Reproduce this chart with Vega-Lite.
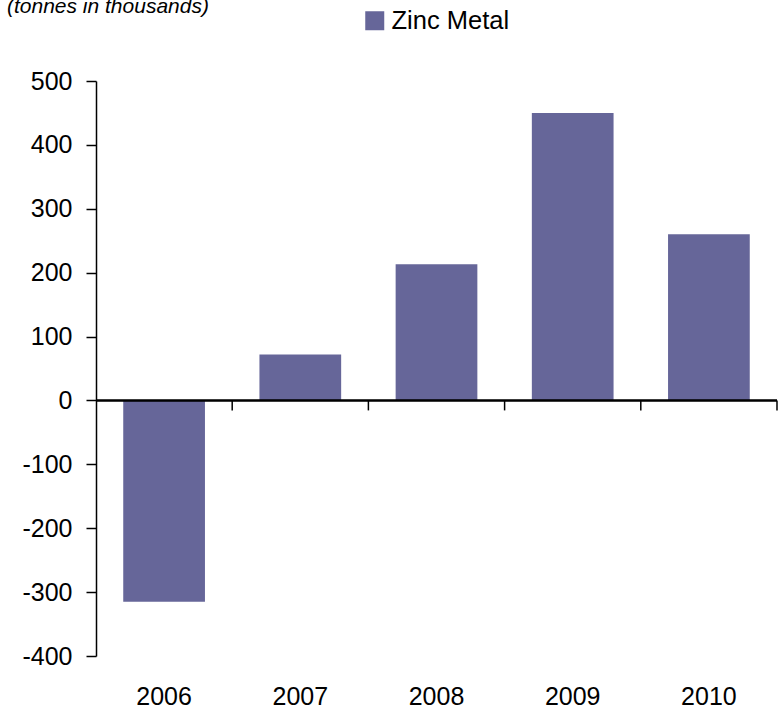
{
  "$schema": "https://vega.github.io/schema/vega-lite/v6.json",
  "width": 681,
  "height": 575,
  "autosize": "none",
  "padding": {"left": 96, "top": 81, "right": 5, "bottom": 55},
  "background": "white",
  "config": {
    "view": {"stroke": null},
    "font": "Liberation Sans"
  },
  "title": {
    "text": "(tonnes in thousands)",
    "anchor": "start",
    "fontStyle": "italic",
    "fontWeight": "normal",
    "fontSize": 21,
    "font": "Liberation Sans",
    "color": "black",
    "dx": -15,
    "dy": 26,
    "offset": 0,
    "baseline": "alphabetic"
  },
  "data": {
    "values": [
      {"year": "2006", "value": -315, "series": "Zinc Metal"},
      {"year": "2007", "value": 72, "series": "Zinc Metal"},
      {"year": "2008", "value": 213, "series": "Zinc Metal"},
      {"year": "2009", "value": 450, "series": "Zinc Metal"},
      {"year": "2010", "value": 260, "series": "Zinc Metal"}
    ]
  },
  "layer": [
    {
      "mark": {"type": "bar"},
      "encoding": {
        "x": {
          "field": "year",
          "type": "ordinal",
          "scale": {"paddingInner": 0.4, "paddingOuter": 0.2},
          "axis": {
            "title": null,
            "domain": false,
            "ticks": false,
            "labelAngle": 0,
            "labelFontSize": 25,
            "labelColor": "black",
            "labelPadding": 28,
            "labelFont": "Liberation Sans"
          }
        },
        "y": {
          "field": "value",
          "type": "quantitative",
          "scale": {"domain": [-400, 500], "nice": false},
          "axis": {
            "title": null,
            "values": [-400, -300, -200, -100, 0, 100, 200, 300, 400, 500],
            "labelExpr": "toString(datum.value)",
            "grid": false,
            "domainColor": "black",
            "domainWidth": 1.5,
            "tickColor": "black",
            "tickWidth": 1.5,
            "tickSize": 10,
            "labelFontSize": 25,
            "labelColor": "black",
            "labelPadding": 14,
            "labelFont": "Liberation Sans"
          }
        },
        "color": {
          "field": "series",
          "type": "nominal",
          "scale": {"range": ["#666699"]},
          "legend": {
            "title": null,
            "orient": "none",
            "legendX": 266,
            "legendY": -73,
            "padding": 0,
            "symbolType": "square",
            "symbolSize": 361,
            "symbolStrokeWidth": 0,
            "symbolOpacity": 1,
            "labelFontSize": 25.5,
            "labelColor": "black",
            "labelOffset": 4,
            "labelFont": "Liberation Sans"
          }
        }
      }
    },
    {
      "mark": {"type": "rule", "color": "black", "strokeWidth": 1.5},
      "encoding": {
        "y": {"datum": 0}
      }
    },
    {
      "mark": {"type": "rule", "color": "black", "strokeWidth": 1.5},
      "encoding": {
        "x": {"field": "year", "type": "ordinal", "bandPosition": 1.3333},
        "y": {"datum": 0},
        "y2": {"datum": -15.6}
      }
    }
  ]
}
